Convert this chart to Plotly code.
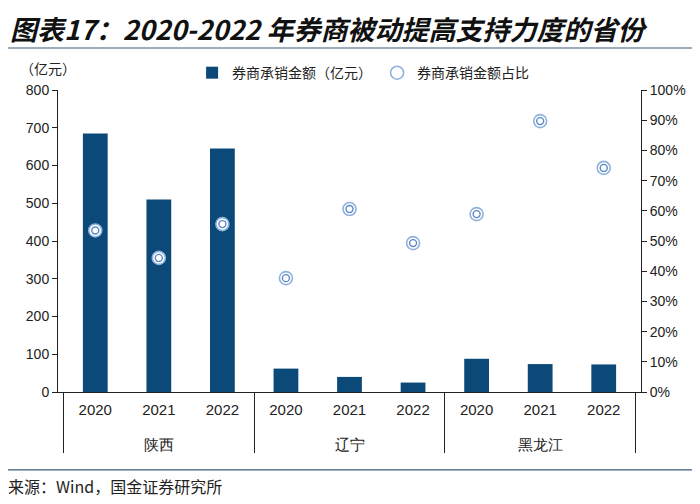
import plotly.graph_objects as go

provinces = ["陕西", "陕西", "陕西", "辽宁", "辽宁", "辽宁", "黑龙江", "黑龙江", "黑龙江"]
years = ["2020", "2021", "2022", "2020", "2021", "2022", "2020", "2021", "2022"]
amount = [685, 510, 645, 62, 40, 25, 88, 74, 73]          # 券商承销金额（亿元）
share = [0.535, 0.444, 0.556, 0.377, 0.606, 0.493, 0.589, 0.897, 0.742]  # 券商承销金额占比

bar_color = "#0b4a78"
ring_outer = "#8fb1dc"
ring_inner = "#5a88c6"
cjk = "Noto Sans CJK SC"
latin = "Liberation Sans, Arial"

# group labels pushed one line lower (leading line break) to leave room below the years
x = [["<br>" + p for p in provinces], years]

fig = go.Figure()
fig.add_trace(go.Bar(
    x=x, y=amount, name="券商承销金额（亿元）",
    marker=dict(color=bar_color, line=dict(width=0)),
    width=0.39, yaxis="y",
))
fig.add_trace(go.Scatter(
    x=x, y=share, name="券商承销金额占比", mode="markers", yaxis="y2",
    marker=dict(size=13, color="white", line=dict(color=ring_outer, width=1.6)),
    showlegend=True,
))
fig.add_trace(go.Scatter(
    x=x, y=share, name="inner", mode="markers", yaxis="y2",
    marker=dict(size=7, color="white", line=dict(color=ring_inner, width=1.4)),
    showlegend=False, hoverinfo="skip",
))

# page body has an 8px margin, so the figure is 692x496 and everything is shifted by 8px
fig.update_layout(
    width=692, height=496,
    paper_bgcolor="white", plot_bgcolor="white",
    margin=dict(l=50, r=59, t=82, b=112, autoexpand=False),
    font=dict(family=latin, size=14, color="#222"),
    bargap=0.6,
    xaxis=dict(
        type="multicategory", automargin=False,
        showline=True, linecolor="#222", linewidth=1,
        showgrid=False, ticks="",
        showdividers=True, dividercolor="#222", dividerwidth=1,
        ticklabelstandoff=4,
        tickfont=dict(family="Liberation Sans Narrow, Liberation Sans", size=15, color="#222"),
    ),
    yaxis=dict(
        range=[0, 800], dtick=100, showgrid=False, zeroline=False, automargin=False,
        showline=True, linecolor="#222", linewidth=1,
        ticks="outside", ticklen=5, tickcolor="#222",
        tickfont=dict(family=latin, size=14),
    ),
    yaxis2=dict(
        range=[0, 1.0], dtick=0.1, tickformat=".0%", overlaying="y", side="right",
        showgrid=False, zeroline=False, automargin=False,
        showline=True, linecolor="#222", linewidth=1,
        ticks="outside", ticklen=5, tickcolor="#222",
        tickfont=dict(family=latin, size=14),
    ),
    legend=dict(
        orientation="h", x=0.23, y=1.056, xanchor="left", yanchor="middle",
        font=dict(family=cjk, size=14, color="#222"),
        bgcolor="rgba(0,0,0,0)", itemwidth=30,
    ),
    shapes=[
        dict(type="line", xref="paper", yref="paper", x0=-0.1, x1=1.2, y0=1.139, y1=1.139,
             line=dict(color="#3d5a7a", width=1.2)),
        dict(type="line", xref="paper", yref="paper", x0=-0.1, x1=1.2, y0=-0.258, y1=-0.258,
             line=dict(color="#3d5a7a", width=1.2)),
    ],
    annotations=[
        dict(text="<b><i>图表17：2020-2022 年券商被动提高支持力度的省份</i></b>",
             xref="paper", yref="paper", x=-0.0858, y=1.205, xanchor="left", yanchor="middle",
             showarrow=False, font=dict(family=cjk, size=27, color="#111")),
        dict(text="（亿元）", xref="paper", yref="paper", x=-0.017, y=1.073,
             xanchor="center", yanchor="middle", showarrow=False,
             font=dict(family=cjk, size=14, color="#222")),
        dict(text="来源：Wind，国金证券研究所", xref="paper", yref="paper", x=-0.09, y=-0.312,
             xanchor="left", yanchor="middle", showarrow=False,
             font=dict(family=cjk, size=16, color="#222")),
    ],
)

fig.write_html("out.html")
